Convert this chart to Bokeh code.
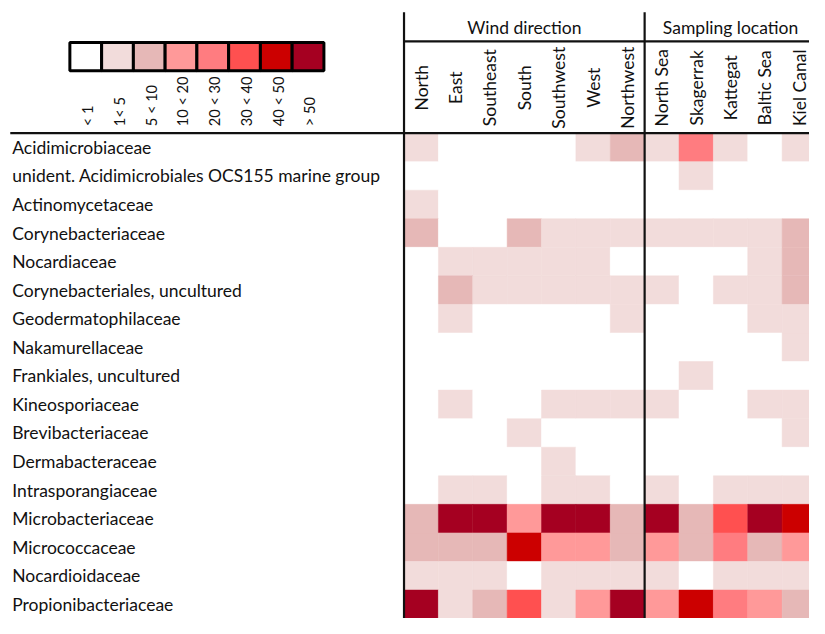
import numpy as np
from bokeh.plotting import figure
from bokeh.models import Range1d, ColumnDataSource, LinearColorMapper
from bokeh.transform import transform
from bokeh.core.properties import value
from bokeh.embed import file_html
from bokeh.resources import INLINE

# ---------------- data ----------------
families = [
    "Acidimicrobiaceae",
    "unident. Acidimicrobiales OCS155 marine group",
    "Actinomycetaceae",
    "Corynebacteriaceae",
    "Nocardiaceae",
    "Corynebacteriales, uncultured",
    "Geodermatophilaceae",
    "Nakamurellaceae",
    "Frankiales, uncultured",
    "Kineosporiaceae",
    "Brevibacteriaceae",
    "Dermabacteraceae",
    "Intrasporangiaceae",
    "Microbacteriaceae",
    "Micrococcaceae",
    "Nocardioidaceae",
    "Propionibacteriaceae",
]
wind_dirs = ["North", "East", "Southeast", "South", "Southwest", "West", "Northwest"]
locations = ["North Sea", "Skagerrak", "Kattegat", "Baltic Sea", "Kiel Canal"]
group_names = ["Wind direction", "Sampling location"]
classes = ["< 1", "1< 5", "5 < 10", "10 < 20", "20 < 30", "30 < 40", "40 < 50", "> 50"]
palette = ["#FFFFFF", "#F2DCDB", "#E6B8B7", "#FF9999", "#FF7C80", "#FF5050", "#CC0000", "#A50021"]

# abundance class index (0 = "< 1" ... 7 = "> 50"), one list per family
wind_levels = [
    [1, 0, 0, 0, 0, 1, 2],
    [0, 0, 0, 0, 0, 0, 0],
    [1, 0, 0, 0, 0, 0, 0],
    [2, 0, 0, 2, 1, 1, 1],
    [0, 1, 1, 1, 1, 1, 0],
    [0, 2, 1, 1, 1, 1, 1],
    [0, 1, 0, 0, 0, 0, 1],
    [0, 0, 0, 0, 0, 0, 0],
    [0, 0, 0, 0, 0, 0, 0],
    [0, 1, 0, 0, 1, 1, 1],
    [0, 0, 0, 1, 0, 0, 0],
    [0, 0, 0, 0, 1, 0, 0],
    [0, 1, 1, 0, 1, 1, 0],
    [2, 7, 7, 3, 7, 7, 2],
    [2, 2, 2, 6, 3, 3, 2],
    [1, 1, 1, 0, 1, 1, 1],
    [7, 1, 2, 5, 1, 3, 7],
]
location_levels = [
    [1, 4, 1, 0, 1],
    [0, 1, 0, 0, 0],
    [0, 0, 0, 0, 0],
    [1, 1, 1, 1, 2],
    [0, 0, 0, 1, 2],
    [1, 0, 1, 1, 2],
    [0, 0, 0, 1, 1],
    [0, 0, 0, 0, 1],
    [0, 1, 0, 0, 0],
    [1, 0, 0, 1, 1],
    [0, 0, 0, 0, 1],
    [0, 0, 0, 0, 0],
    [1, 0, 1, 1, 1],
    [7, 2, 5, 7, 6],
    [3, 2, 4, 2, 3],
    [1, 0, 1, 1, 1],
    [3, 6, 4, 3, 2],
]

# ---------------- layout (reference pixels, mapped onto the figure) ----------------
W, H = 809, 618
REF_W, REF_H = 828, 634
X0, Y0 = 413.0, 136.0      # top-left corner of heat map
CW, RH = 35.18, 29.3       # cell width / height
S = min(W / REF_W, H / REF_H)


def ux(px):
    return (px - X0) / CW


def uy(py):
    return (py - Y0) / RH


def fs(px):
    return "%.1fpx" % (px * S)


FONT = value("Lato")
INK = "#111111"

p = figure(width=W, height=H, output_backend="svg", toolbar_location=None,
           x_range=Range1d(ux(0), ux(REF_W)),
           y_range=Range1d(uy(REF_H), uy(0)),
           min_border=0, outline_line_color=None, background_fill_color="white")
p.axis.visible = False
p.grid.visible = False

mapper = LinearColorMapper(palette=palette, low=-0.5, high=len(palette) - 0.5)

columns = wind_dirs + locations
cx, cy, cl = [], [], []
for j, fam in enumerate(families):
    row = wind_levels[j] + location_levels[j]
    for i, v in enumerate(row):
        cx.append(i + 0.5)
        cy.append(j + 0.5)
        cl.append(v)
cells = ColumnDataSource(dict(x=cx, y=cy, lvl=cl))
p.rect(x="x", y="y", width=1, height=1, source=cells,
       fill_color=transform("lvl", mapper), line_color=transform("lvl", mapper),
       line_width=0.5)

# row labels
p.text(x=[ux(12)] * len(families), y=[j + 0.5 for j in range(len(families))],
       text=families, text_align="left", text_baseline="middle",
       text_font=FONT, text_font_size=fs(18), text_color=INK)

# column labels (vertical)
p.text(x=[i + 0.5 for i in range(len(columns))], y=[uy(89.5)] * len(columns),
       text=columns, angle=np.pi / 2, text_align="center", text_baseline="middle",
       text_font=FONT, text_font_size=fs(18), text_color=INK)

# group labels
n_w = len(wind_dirs)
n_l = len(locations)
p.text(x=[n_w / 2, n_w + n_l / 2], y=[uy(27.5)] * 2, text=group_names,
       text_align="center", text_baseline="middle",
       text_font=FONT, text_font_size=fs(18), text_color=INK)

# separator lines
far_r = ux(REF_W + 40)
far_b = uy(REF_H + 40)
p.segment(x0=[0, n_w, 0, ux(10)], y0=[uy(12), uy(12), uy(42), 0],
          x1=[0, n_w, far_r, far_r], y1=[far_b, far_b, uy(42), 0],
          line_color=INK, line_width=2.2)

# legend
LX0, LPITCH, LY = 71.0, 32.5, 57.5
lx = [ux(LX0 + LPITCH * (k + 0.5)) for k in range(len(classes))]
leg = ColumnDataSource(dict(x=lx, y=[uy(LY)] * len(classes), lvl=list(range(len(classes))),
                            label=classes))
p.rect(x="x", y="y", width=LPITCH / CW, height=29 / RH, source=leg,
       fill_color=transform("lvl", mapper), line_color="#000000", line_width=3)
p.text(x=[v + 2 / CW for v in lx], y=[uy(129)] * len(classes), text=classes,
       angle=np.pi / 2, text_align="left", text_baseline="middle",
       text_font=FONT, text_font_size=fs(15), text_color=INK)

open("out.html", "w").write(file_html(p, INLINE))
